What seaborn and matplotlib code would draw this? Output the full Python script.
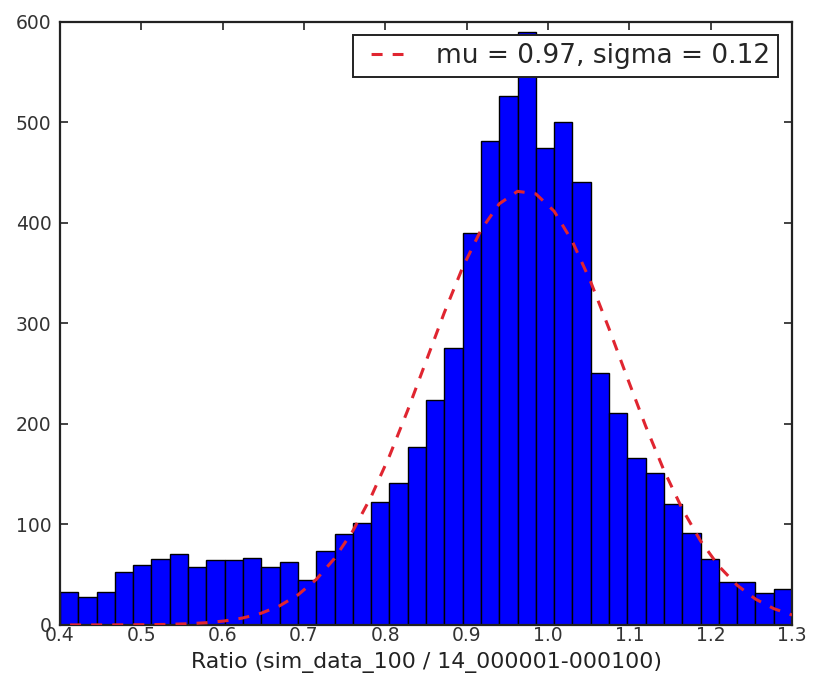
import numpy as np
import pandas as pd
import matplotlib
matplotlib.use("Agg")
import matplotlib.pyplot as plt
import seaborn as sns

# Histogram of the ratio, 40 equal bins between 0.4 and 1.3
bin_lo = 0.4
bin_hi = 1.3
n_bins = 40
counts = [33, 28, 33, 53, 60, 66, 71, 58, 65, 65,
          67, 58, 63, 45, 74, 90, 101, 122, 141, 177,
          224, 275, 390, 481, 526, 590, 474, 500, 441, 251,
          211, 166, 151, 120, 91, 66, 43, 43, 32, 36]

# Gaussian fit parameters and its overall amplitude (counts x bin width)
mu = 0.97
sigma = 0.12
fit_scale = 130.0

x_ticks = [0.4, 0.5, 0.6, 0.7, 0.8, 0.9, 1.0, 1.1, 1.2, 1.3]
y_ticks = [0, 100, 200, 300, 400, 500, 600]
x_label = "Ratio (sim_data_100 / 14_000001-000100)"

sns.set_style("ticks")
plt.rcParams["font.family"] = ["DejaVu Sans"]

edges = np.linspace(bin_lo, bin_hi, n_bins + 1)
centers = 0.5 * (edges[:-1] + edges[1:])
hist_df = pd.DataFrame({"ratio": centers, "count": counts})

fig = plt.figure(figsize=(8.14, 6.8), dpi=100)
ax = fig.add_axes([0.0737, 0.081, 0.8993, 0.887])

sns.histplot(data=hist_df, x="ratio", weights="count", bins=n_bins,
             binrange=(bin_lo, bin_hi),
             color="#0000ff", alpha=1.0, edgecolor="black", linewidth=1.0,
             ax=ax, zorder=1)

# Fitted normal curve evaluated on the bin edges; the dash pattern starts
# on a gap so the legend sample shows two dashes
pdf = np.exp(-0.5 * ((edges - mu) / sigma) ** 2) / (sigma * np.sqrt(2 * np.pi))
fit_df = pd.DataFrame({"ratio": edges, "fit": fit_scale * pdf})
sns.lineplot(data=fit_df, x="ratio", y="fit", color="#e02530",
             linestyle=(3.6, (3.6, 3.3)), linewidth=2.2, ax=ax, zorder=3,
             label=f"mu = {mu:.2f}, sigma = {sigma:.2f}")

ax.set_xlim(bin_lo, bin_hi)
ax.set_ylim(0, 600)
ax.set_xticks(x_ticks)
ax.set_xticklabels([f"{t:.1f}" for t in x_ticks])
ax.set_yticks(y_ticks)
ax.set_xlabel(x_label, fontsize=15.8, color="#222222", labelpad=5)
ax.set_ylabel("")

for side in ["left", "right", "top", "bottom"]:
    ax.spines[side].set_visible(True)
    ax.spines[side].set_linewidth(1.6)
    ax.spines[side].set_color("#222222")
ax.tick_params(axis="both", which="major", direction="in", length=6,
               width=1.2, color="#222222", labelsize=13.5, labelcolor="#333333",
               top=True, right=True)
ax.tick_params(axis="x", pad=1)
ax.tick_params(axis="y", pad=6)

# Opaque legend box laid over the tallest bar, anchored to the axes corner
handles, labels = ax.get_legend_handles_labels()
ax.get_legend().remove()
leg = fig.legend(handles, labels, loc="upper right",
                 bbox_to_anchor=(1.0, 1.0), bbox_transform=ax.transAxes,
                 fontsize=19, frameon=True, fancybox=False,
                 framealpha=1.0, facecolor="white", edgecolor="#222222",
                 handlelength=1.6, handletextpad=1.25, borderpad=0.3,
                 borderaxespad=0.52)
leg.get_frame().set_linewidth(1.4)
leg.set_zorder(20)

fig.savefig("out.png", dpi=100, facecolor="white")
